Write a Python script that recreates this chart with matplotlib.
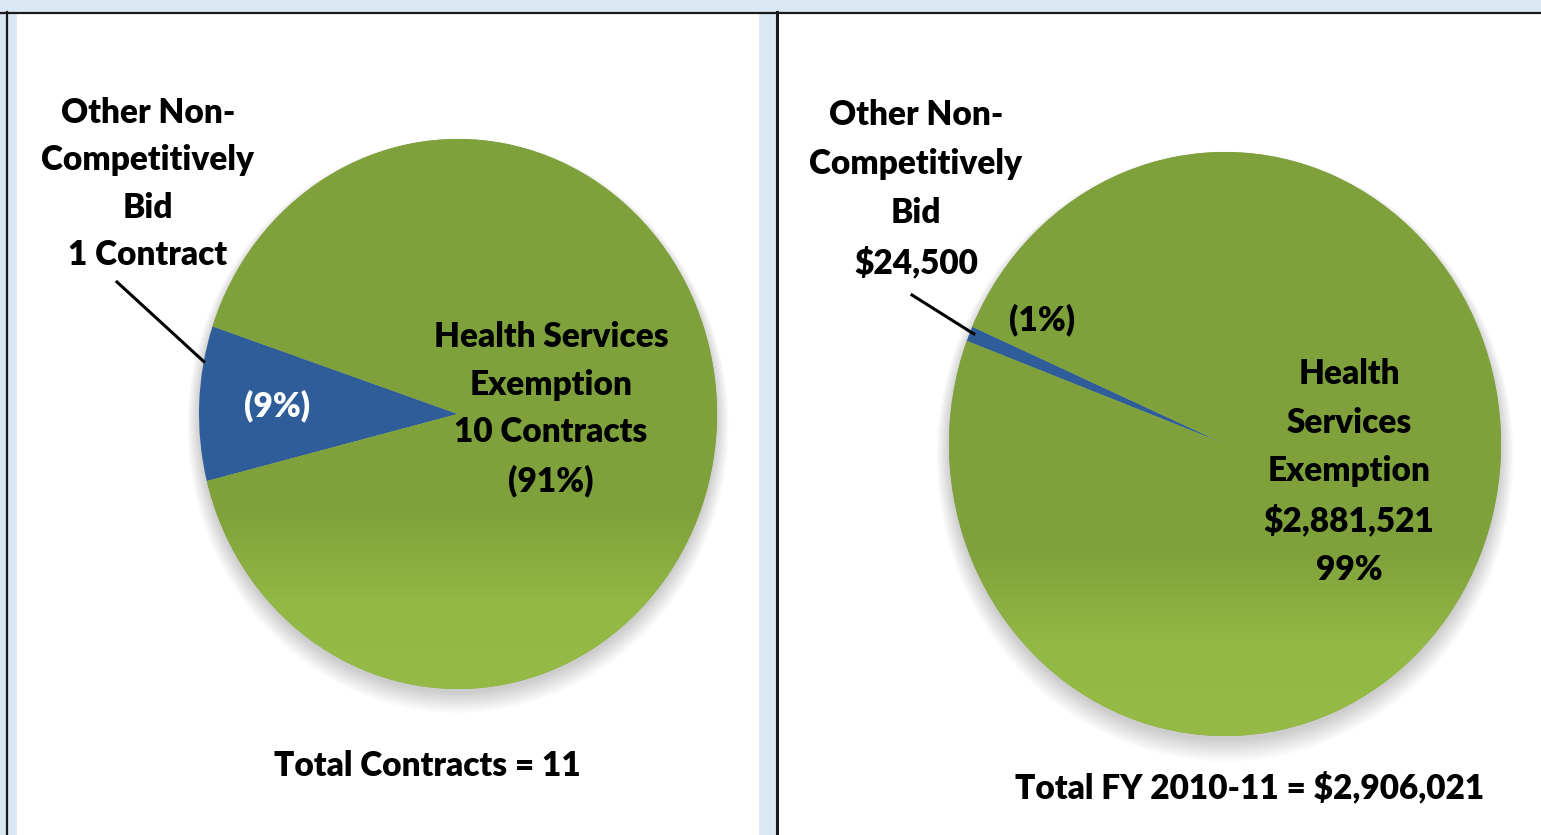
import numpy as np
import matplotlib
matplotlib.use('Agg')
import matplotlib.pyplot as plt
from matplotlib.patches import Ellipse, Rectangle
from matplotlib.colors import LinearSegmentedColormap

plt.rcParams['font.family'] = ['Lato', 'DejaVu Sans']

# data
categories = ['Other Non-Competitively Bid', 'Health Services Exemption']
contracts = [1, 10]
dollars = [24500, 2881521]
contract_pct = ['(9%)', '(91%)']
dollar_pct = ['(1%)', '99%']
fiscal_year = 'FY 2010-11'

BLUE = '#2e5d99'
GREEN = '#7fa13b'
W, H = 1541, 835
FS = 24

fig = plt.figure(figsize=(W / 100, H / 100), dpi=100)

# background: light blue frame with two white panels
bg = fig.add_axes([0, 0, 1, 1])
bg.set_xlim(0, W)
bg.set_ylim(H, 0)
bg.axis('off')
bg.add_patch(Rectangle((0, 0), W, H, color='#dbe7f3'))
bg.add_patch(Rectangle((17, 13), 741, H, color='white'))
bg.add_patch(Rectangle((779, 13), W - 779, H, color='white'))
bg.plot([0, W], [12.5, 12.5], color='#1a1a1a', lw=1.6)
bg.plot([7.5, 7.5], [12, H], color='#1a1a1a', lw=1.6)
bg.plot([777.5, 777.5], [12, H], color='#1a1a1a', lw=2.2)

green_cmap = LinearSegmentedColormap.from_list(
    'g', [(0, '#95bb46'), (0.15, '#93b945'), (0.32, '#7fa13b'), (1, '#7fa13b')])


def draw_pie(cx, cy, rx, ry, values, start):
    pad = 1.15
    ax = fig.add_axes([(cx - rx * pad) / W, (H - cy - ry * pad) / H,
                       2 * rx * pad / W, 2 * ry * pad / H])
    # soft shadow under the pie
    for i in range(10):
        ax.add_patch(Ellipse((0, -0.015 - i * 0.003), 2 + i * 0.01, 2 + i * 0.01,
                             color='black', alpha=0.02, lw=0, zorder=0))
    wedges, _ = ax.pie(values, colors=[BLUE, GREEN], startangle=start,
                       counterclock=True, radius=1,
                       wedgeprops=dict(linewidth=0))
    grad = np.linspace(0, 1, 256).reshape(-1, 1)
    im = ax.imshow(grad, extent=[-1, 1, -1, 1], origin='lower', cmap=green_cmap,
                   aspect='auto', zorder=wedges[1].get_zorder() + 0.5)
    im.set_clip_path(wedges[1])
    ax.set_xlim(-pad, pad)
    ax.set_ylim(-pad, pad)
    ax.set_aspect('auto')
    ax.axis('off')
    return ax


def edge_pixel(ax, angle, r=1.0):
    a = np.radians(angle)
    x, y = ax.transData.transform((r * np.cos(a), r * np.sin(a)))
    return x, H - y


# left pie: number of contracts
ax1 = draw_pie(458, 414, 259, 275, contracts, 161.4)
# right pie: dollars
ax2 = draw_pie(1225, 444, 276, 292, dollars, 156.3)

top = fig.add_axes([0, 0, 1, 1])
top.set_xlim(0, W)
top.set_ylim(H, 0)
top.patch.set_alpha(0)
top.axis('off')

kw = dict(ha='center', va='center', fontsize=FS, fontweight='heavy')

# left panel labels
top.text(148, 184, 'Other Non-\nCompetitively\nBid\n%d Contract' % contracts[0],
         linespacing=1.6, **kw)
x, y = edge_pixel(ax1, 169)
top.plot([117, x], [282, y], color='black', lw=2.2)
top.text(277, 406, contract_pct[0], color='white', **kw)
top.text(551, 409, 'Health Services\nExemption\n%d Contracts\n%s' % (contracts[1], contract_pct[1]),
         linespacing=1.6, **kw)
top.text(427, 766, 'Total Contracts = %d' % sum(contracts), **kw)

# right panel labels
top.text(916, 189, 'Other Non-\nCompetitively\nBid\n${:,}'.format(dollars[0]),
         linespacing=1.65, **kw)
x, y = edge_pixel(ax2, 157.5, 0.985)
top.plot([912, x], [295, y], color='black', lw=2.2)
top.text(1042, 320, dollar_pct[0], **kw)
top.text(1349, 472, 'Health\nServices\nExemption\n${:,}\n{}'.format(dollars[1], dollar_pct[1]),
         linespacing=1.65, **kw)
top.text(1250, 788, 'Total {} = ${:,}'.format(fiscal_year, sum(dollars)), **kw)

fig.savefig('out.png', dpi=100)
